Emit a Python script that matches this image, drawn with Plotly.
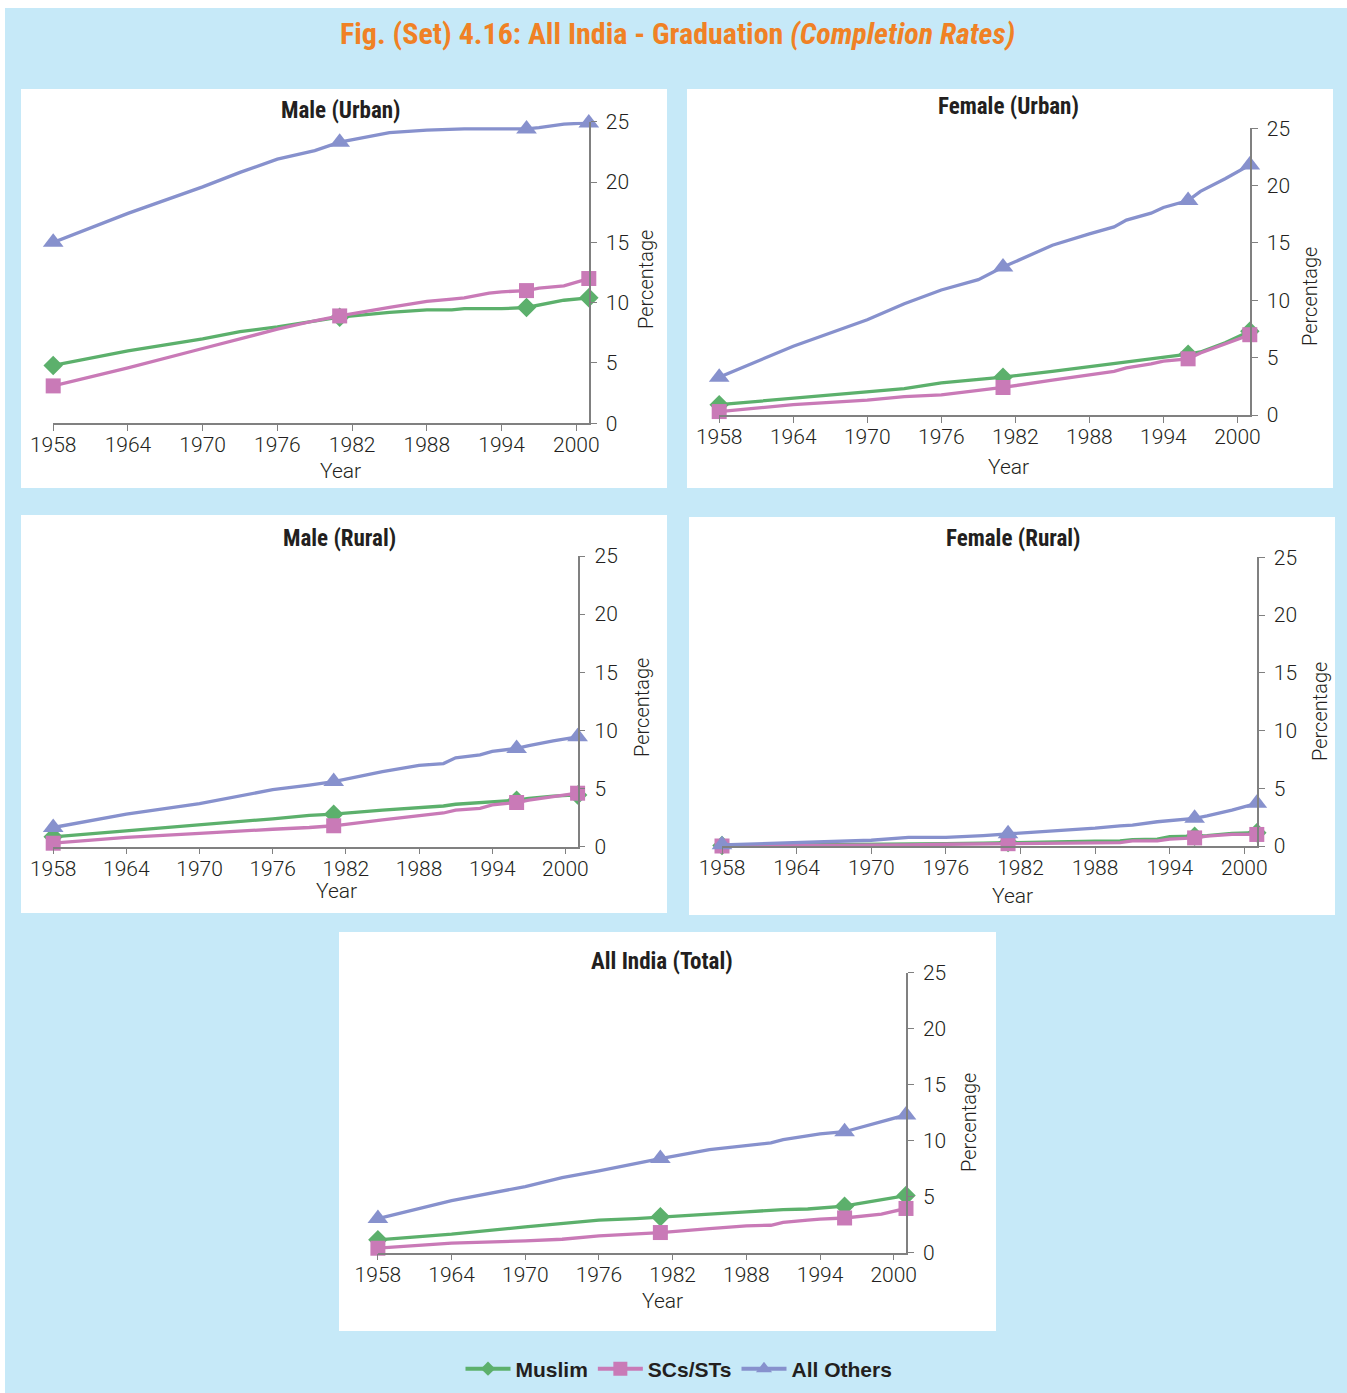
import plotly.graph_objects as go

W, H = 1347, 1393

# ---------------- data ----------------
YEARS = [1958, 1964, 1970, 1973, 1976, 1979, 1981, 1985, 1988, 1990, 1991, 1993, 1994, 1996, 1997, 1999, 2001]
MARKER_YEARS = [1958, 1981, 1996, 2001]
TICK_YEARS = [1958, 1964, 1970, 1976, 1982, 1988, 1994, 2000]
Y_TICKS = [0, 5, 10, 15, 20, 25]

male_urban_muslim = [4.8, 6.0, 7.0, 7.6, 8.0, 8.5, 8.8, 9.2, 9.4, 9.4, 9.5, 9.5, 9.5, 9.6, 9.8, 10.2, 10.4]
male_urban_scst = [3.1, 4.6, 6.2, 7.0, 7.8, 8.5, 8.9, 9.6, 10.1, 10.3, 10.4, 10.8, 10.9, 11.0, 11.2, 11.4, 12.0]
male_urban_others = [15.0, 17.4, 19.6, 20.8, 21.9, 22.6, 23.3, 24.1, 24.3, 24.4, 24.4, 24.4, 24.4, 24.4, 24.5, 24.8, 24.9]

female_urban_muslim = [0.9, 1.45, 2.0, 2.3, 2.8, 3.1, 3.3, 3.8, 4.2, 4.45, 4.6, 4.9, 5.0, 5.3, 5.5, 6.3, 7.3]
female_urban_scst = [0.3, 0.9, 1.3, 1.6, 1.75, 2.1, 2.4, 3.05, 3.5, 3.8, 4.1, 4.45, 4.7, 4.9, 5.4, 6.2, 7.0]
female_urban_others = [3.3, 6.0, 8.3, 9.7, 10.9, 11.8, 12.9, 14.8, 15.8, 16.4, 17.0, 17.6, 18.1, 18.7, 19.5, 20.6, 21.8]

male_rural_muslim = [0.85, 1.35, 1.9, 2.1, 2.4, 2.7, 2.8, 3.15, 3.35, 3.5, 3.65, 3.8, 3.9, 4.0, 4.15, 4.35, 4.45]
male_rural_scst = [0.3, 0.8, 1.15, 1.35, 1.5, 1.65, 1.8, 2.3, 2.7, 2.9, 3.15, 3.3, 3.6, 3.8, 4.0, 4.3, 4.6]
male_rural_others = [1.65, 2.8, 3.7, 4.3, 4.9, 5.3, 5.6, 6.45, 7.0, 7.15, 7.65, 7.9, 8.2, 8.45, 8.7, 9.1, 9.45]

female_rural_muslim = [0.05, 0.08, 0.1, 0.15, 0.2, 0.25, 0.3, 0.4, 0.42, 0.45, 0.55, 0.6, 0.8, 0.85, 0.9, 1.1, 1.15]
female_rural_scst = [0.0, 0.02, 0.05, 0.1, 0.15, 0.18, 0.2, 0.3, 0.3, 0.3, 0.45, 0.45, 0.6, 0.7, 0.85, 1.0, 1.0]
female_rural_others = [0.1, 0.3, 0.5, 0.75, 0.75, 0.9, 1.05, 1.3, 1.55, 1.75, 1.8, 2.1, 2.2, 2.4, 2.6, 3.1, 3.7]

total_muslim = [1.15, 1.65, 2.3, 2.6, 2.9, 3.05, 3.2, 3.45, 3.65, 3.8, 3.85, 3.9, 4.0, 4.15, 4.35, 4.7, 5.1]
total_scst = [0.4, 0.85, 1.05, 1.2, 1.5, 1.7, 1.8, 2.15, 2.4, 2.45, 2.7, 2.9, 3.0, 3.1, 3.2, 3.45, 3.95]
total_others = [3.05, 4.65, 5.9, 6.7, 7.3, 8.0, 8.4, 9.2, 9.6, 9.8, 10.1, 10.4, 10.6, 10.8, 11.1, 11.7, 12.3]

SERIES_NAMES = ["Muslim", "SCs/STs", "All Others"]
PANEL_TITLES = ["Male (Urban)", "Female (Urban)", "Male (Rural)", "Female (Rural)", "All India (Total)"]
PANEL_DATA = [
    [male_urban_muslim, male_urban_scst, male_urban_others],
    [female_urban_muslim, female_urban_scst, female_urban_others],
    [male_rural_muslim, male_rural_scst, male_rural_others],
    [female_rural_muslim, female_rural_scst, female_rural_others],
    [total_muslim, total_scst, total_others],
]
FIG_TITLE = "Fig. (Set) 4.16: All India - Graduation <i>(Completion Rates)</i>"

# ---------------- styling ----------------
COLORS = ["#5cb06c", "#c97ab7", "#8791cd"]
SYMBOLS = ["diamond", "square", "triangle-up"]
MSIZES = [15, 15, 18]
LEG_MSIZES = [11, 14, 14]
BG_BLUE = "#c6e9f8"
TEXT = "#231f20"
AXIS = "#808080"
NARROW = "Liberation Sans Narrow, Roboto Condensed, Liberation Sans, Arial"
LIGHT = "Roboto, Liberation Sans, Arial"

# pixel layouts: white box (x0,y0,x1,y1), plot area (x0,x1,ytop,ybottom), title/xlabel/ylabel centres
BOXES = [(21, 89, 667, 488), (687, 89, 1333, 488), (21, 515, 667, 913), (689, 517, 1335, 915), (339, 932, 996, 1331)]
PLOTS = [(53.2, 588.8, 121.7, 423.3), (719.2, 1249.8, 128.3, 415.0), (53.2, 577.6, 556.0, 846.7),
         (722.0, 1256.8, 557.3, 846.0), (377.9, 906.0, 972.7, 1252.7)]
TITLE_POS = [(341, 110), (1008, 106), (339, 538), (1013, 538), (662, 961)]
XLAB_POS = [(340, 471), (1008, 467), (337, 891), (1012, 896), (662, 1301)]
YLAB_POS = [(646, 280), (1310, 297), (642, 708), (1320, 712), (969, 1123)]


def px(x):
    return x / W


def py(y):
    return 1 - y / H


fig = go.Figure()
shapes = [dict(type="rect", xref="paper", yref="paper", x0=px(5), x1=px(1347), y0=py(1393), y1=py(8),
               fillcolor=BG_BLUE, line=dict(width=0), layer="below")]
annotations = [dict(text=FIG_TITLE, x=px(677), y=py(34), xref="paper", yref="paper", showarrow=False,
                    xanchor="center", yanchor="middle",
                    font=dict(family=NARROW, size=30, color="#f08125", weight="bold"))]

tickfont = dict(family=LIGHT, size=21, color=TEXT, weight=300)

layout_axes = {}
for i, (title, data) in enumerate(zip(PANEL_TITLES, PANEL_DATA)):
    n = i + 1
    xa = "xaxis" if n == 1 else f"xaxis{n}"
    ya = "yaxis" if n == 1 else f"yaxis{n}"
    xr = "x" if n == 1 else f"x{n}"
    yr = "y" if n == 1 else f"y{n}"
    bx0, by0, bx1, by1 = BOXES[i]
    shapes.append(dict(type="rect", xref="paper", yref="paper", x0=px(bx0), x1=px(bx1), y0=py(by1), y1=py(by0),
                       fillcolor="white", line=dict(width=0), layer="below"))
    p_x0, p_x1, p_yt, p_yb = PLOTS[i]
    layout_axes[xa] = dict(domain=[px(p_x0), px(p_x1)], range=[1958, 2001], anchor=yr, automargin=False,
                           tickvals=TICK_YEARS, ticktext=[str(t) for t in TICK_YEARS],
                           showline=True, linecolor=AXIS, linewidth=1.5, ticks="outside", ticklen=6,
                           tickcolor=AXIS, showgrid=False, zeroline=False, tickfont=tickfont,
                           ticklabelstandoff=-4)
    layout_axes[ya] = dict(domain=[py(p_yb), py(p_yt)], range=[0, 25], anchor=xr, side="right", automargin=False,
                           tickvals=Y_TICKS, showline=True, linecolor=AXIS, linewidth=1.5,
                           ticks="outside", ticklen=6, tickcolor=AXIS, showgrid=False, zeroline=False,
                           ticklabelstandoff=5, tickfont=tickfont)
    for s, vals in enumerate(data):
        sizes = [MSIZES[s] if y in MARKER_YEARS else 0 for y in YEARS]
        fig.add_trace(go.Scatter(
            x=YEARS, y=vals, mode="lines+markers", name=SERIES_NAMES[s],
            line=dict(color=COLORS[s], width=3.3),
            marker=dict(symbol=SYMBOLS[s], size=sizes, color=COLORS[s], opacity=1,
                        line=dict(width=0, color=COLORS[s])),
            cliponaxis=False, showlegend=False, xaxis=xr, yaxis=yr,
        ))
    tx, ty = TITLE_POS[i]
    annotations.append(dict(text=title, x=px(tx), y=py(ty), xref="paper", yref="paper", showarrow=False,
                            xanchor="center", yanchor="middle",
                            font=dict(family=NARROW, size=23, color=TEXT, weight="bold")))
    lx, ly = XLAB_POS[i]
    annotations.append(dict(text="Year", x=px(lx), y=py(ly), xref="paper", yref="paper", showarrow=False,
                            xanchor="center", yanchor="middle",
                            font=dict(family=LIGHT, size=21, color=TEXT, weight=300)))
    vx, vy = YLAB_POS[i]
    annotations.append(dict(text="Percentage", x=px(vx), y=py(vy), xref="paper", yref="paper", showarrow=False,
                            xanchor="center", yanchor="middle", textangle=-90,
                            font=dict(family=LIGHT, size=20, color=TEXT, weight=300)))

# legend entries (no data; they only carry the legend symbols)
for s in range(3):
    fig.add_trace(go.Scatter(
        x=[None], y=[None], mode="lines+markers", name=SERIES_NAMES[s],
        line=dict(color=COLORS[s], width=4),
        marker=dict(symbol=SYMBOLS[s], size=LEG_MSIZES[s], color=COLORS[s], opacity=1,
                    line=dict(width=0, color=COLORS[s])),
        showlegend=True, xaxis="x5", yaxis="y5",
    ))

fig.update_layout(
    width=W, height=H, margin=dict(l=0, r=0, t=0, b=0, autoexpand=False),
    paper_bgcolor="white", plot_bgcolor="rgba(0,0,0,0)",
    shapes=shapes, annotations=annotations, hovermode=False,
    legend=dict(orientation="h", x=px(679), xanchor="center", y=py(1369), yanchor="middle",
                bgcolor="rgba(0,0,0,0)", itemwidth=45, tracegroupgap=0,
                font=dict(family="Liberation Sans, Arial", size=21, color=TEXT, weight="bold")),
    **layout_axes,
)

fig.write_html("out.html", config={"displayModeBar": False},
               post_script="document.body.style.margin='0px';")
